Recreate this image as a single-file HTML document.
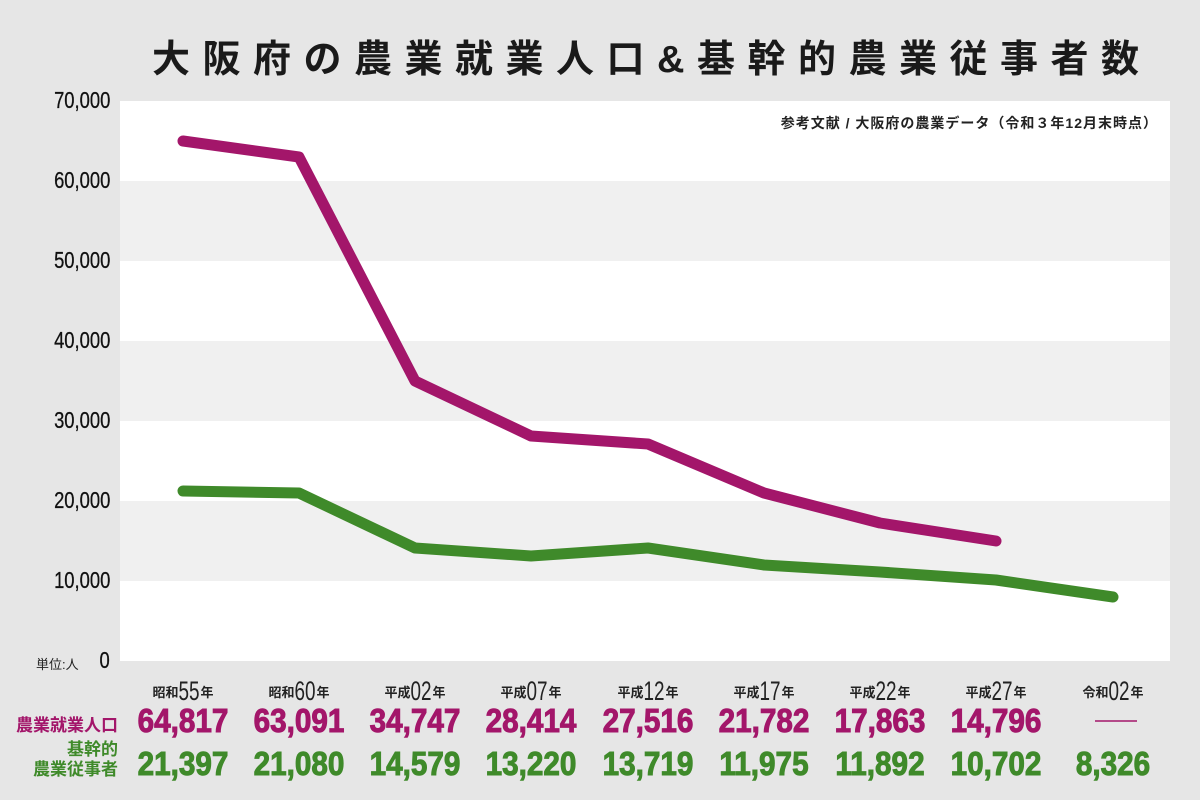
<!DOCTYPE html>
<html><head><meta charset="utf-8"><style>
body{margin:0;width:1200px;height:800px;background:#e6e6e6;overflow:hidden;font-family:"Liberation Sans","Noto Sans CJK JP",sans-serif;position:relative}
.t{position:absolute;white-space:nowrap}
.yl{position:absolute;right:1090px;font-size:23px;color:#111;transform:scaleX(0.8);transform-origin:right center;-webkit-text-stroke:0.3px #111}
.xl{position:absolute;width:116px;text-align:center;font-size:13px;font-weight:bold;color:#222}
.xl b{font-size:27px;font-weight:normal;display:inline-block;transform:scaleX(0.7);margin:0 -4px;vertical-align:-3px}
.n{position:absolute;width:116px;text-align:center;font-size:33px;font-weight:bold;transform:scaleX(0.9);-webkit-text-stroke:1px currentColor}
.p{color:#a3166a}.g{color:#3f8a2a}
</style></head><body>
<div class="t" style="left:152px;top:28px;font-size:38px;font-weight:bold;letter-spacing:12.5px;color:#1a1a1a">大阪府の農業就業人口&amp;基幹的農業従事者数</div>
<svg style="position:absolute;left:0;top:0" width="1200" height="800">
<rect x="120" y="101" width="1050" height="560" fill="#fff"/>
<rect x="120" y="181" width="1050" height="80" fill="#f0f0f0"/>
<rect x="120" y="341" width="1050" height="80" fill="#f0f0f0"/>
<rect x="120" y="501" width="1050" height="80" fill="#f0f0f0"/>
<polyline fill="none" stroke="#a3166a" stroke-width="11" stroke-linecap="round" stroke-linejoin="round" points="183,141 299,157 415,381 531,436 648,444 764,493 880,523 996,541"/>
<polyline fill="none" stroke="#3f8a2a" stroke-width="11" stroke-linecap="round" stroke-linejoin="round" points="183,491 299,493 415,548 531,556 648,548 764,565 880,572 996,580 1113,597"/>
<line x1="1095" y1="721" x2="1137" y2="721" stroke="#a3166a" stroke-width="1.5"/>
</svg>
<div class="t" style="right:42px;top:113px;font-size:14px;letter-spacing:1px;font-weight:bold;color:#222">参考文献 / 大阪府の農業データ（令和３年12月末時点）</div>
<div class="yl" style="top:87px">70,000</div>
<div class="yl" style="top:167px">60,000</div>
<div class="yl" style="top:247px">50,000</div>
<div class="yl" style="top:327px">40,000</div>
<div class="yl" style="top:407px">30,000</div>
<div class="yl" style="top:487px">20,000</div>
<div class="yl" style="top:567px">10,000</div>
<div class="yl" style="top:647px">0</div>
<div class="t" style="left:36px;top:654px;font-size:13px;color:#222">単位:人</div>
<div class="xl" style="left:125px;top:676px">昭和<b>55</b>年</div>
<div class="xl" style="left:241px;top:676px">昭和<b>60</b>年</div>
<div class="xl" style="left:357px;top:676px">平成<b>02</b>年</div>
<div class="xl" style="left:473px;top:676px">平成<b>07</b>年</div>
<div class="xl" style="left:590px;top:676px">平成<b>12</b>年</div>
<div class="xl" style="left:706px;top:676px">平成<b>17</b>年</div>
<div class="xl" style="left:822px;top:676px">平成<b>22</b>年</div>
<div class="xl" style="left:938px;top:676px">平成<b>27</b>年</div>
<div class="xl" style="left:1055px;top:676px">令和<b>02</b>年</div>
<div class="t p" style="right:1082px;top:711px;font-size:17px;font-weight:bold">農業就業人口</div>
<div class="t g" style="right:1082px;top:740px;font-size:17px;font-weight:bold;text-align:right;line-height:20px">基幹的<br>農業従事者</div>
<div class="n p" style="left:125px;top:702px">64,817</div>
<div class="n p" style="left:241px;top:702px">63,091</div>
<div class="n p" style="left:357px;top:702px">34,747</div>
<div class="n p" style="left:473px;top:702px">28,414</div>
<div class="n p" style="left:590px;top:702px">27,516</div>
<div class="n p" style="left:706px;top:702px">21,782</div>
<div class="n p" style="left:822px;top:702px">17,863</div>
<div class="n p" style="left:938px;top:702px">14,796</div>
<div class="n g" style="left:125px;top:745px">21,397</div>
<div class="n g" style="left:241px;top:745px">21,080</div>
<div class="n g" style="left:357px;top:745px">14,579</div>
<div class="n g" style="left:473px;top:745px">13,220</div>
<div class="n g" style="left:590px;top:745px">13,719</div>
<div class="n g" style="left:706px;top:745px">11,975</div>
<div class="n g" style="left:822px;top:745px">11,892</div>
<div class="n g" style="left:938px;top:745px">10,702</div>
<div class="n g" style="left:1055px;top:745px">8,326</div>
</body></html>
